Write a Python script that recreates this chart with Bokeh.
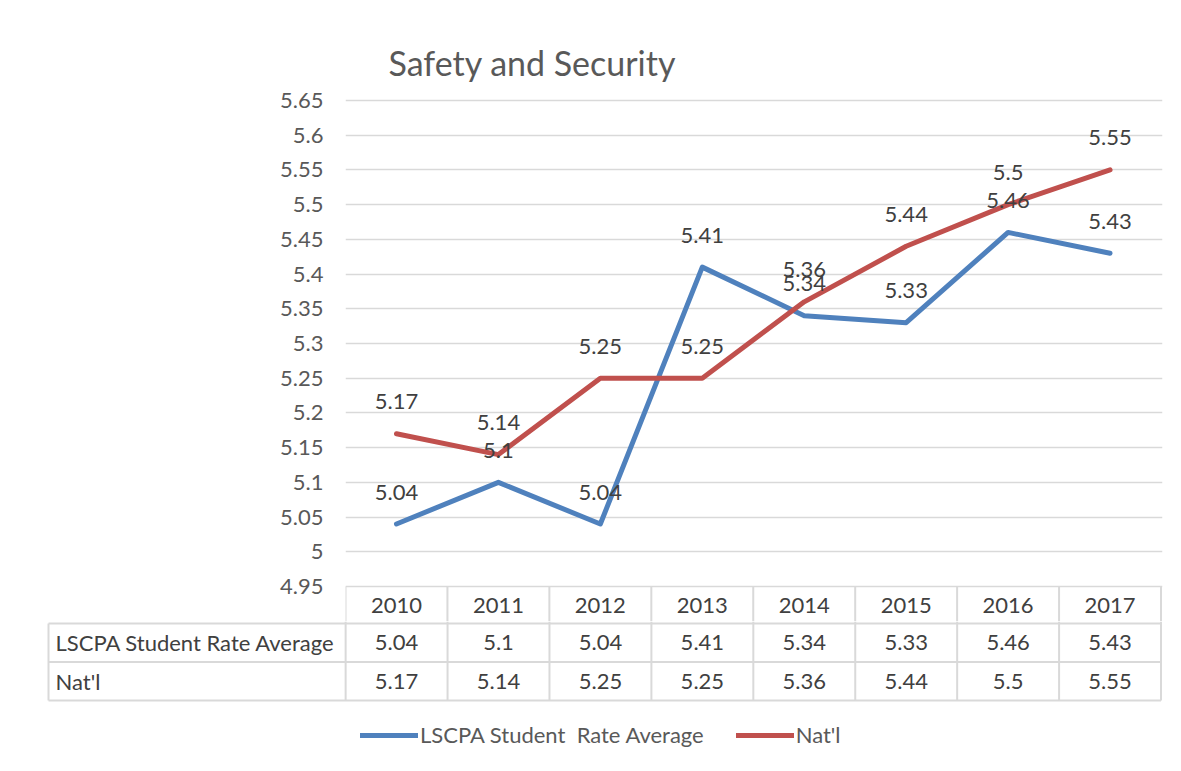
from bokeh.plotting import figure
from bokeh.models import Range1d, FixedTicker, Legend, LegendItem
from bokeh.layouts import column, row
from bokeh.core.properties import value
from bokeh.embed import file_html
from bokeh.resources import INLINE

# ---- data ----
years = ["2010", "2011", "2012", "2013", "2014", "2015", "2016", "2017"]
lscpa = [5.04, 5.1, 5.04, 5.41, 5.34, 5.33, 5.46, 5.43]
natl = [5.17, 5.14, 5.25, 5.25, 5.36, 5.44, 5.5, 5.55]
series_names = ["LSCPA Student  Rate Average", "Nat'l"]
lscpa_labels = ["5.04", "5.1", "5.04", "5.41", "5.34", "5.33", "5.46", "5.43"]
natl_labels = ["5.17", "5.14", "5.25", "5.25", "5.36", "5.44", "5.5", "5.55"]
tick_vals = [4.95, 5.0, 5.05, 5.1, 5.15, 5.2, 5.25, 5.3, 5.35, 5.4, 5.45, 5.5, 5.55, 5.6, 5.65]
tick_labels = ["4.95", "5", "5.05", "5.1", "5.15", "5.2", "5.25", "5.3", "5.35", "5.4",
               "5.45", "5.5", "5.55", "5.6", "5.65"]
title_text = "Safety and Security"

# ---- styles ----
FONT = "Lato"
FS = "22px"
BLUE = "#4F81BD"
RED = "#C0504D"
GRID = "#D9D9D9"
TXT = "#595959"
DTXT = "#404040"

n = len(years)
xs = [i + 0.5 for i in range(n)]
edges = list(range(n + 1))

CELL = 101.875       # px per category
PX_PER_UNIT = 694.3  # vertical px per data unit in chart
y_bottom = 4.95 - 35 / PX_PER_UNIT
y_top = 5.65 + 4 / PX_PER_UNIT
x_end = n + 1.5 / CELL

# ---- chart figure ----
pA = figure(width=1165, height=621, x_range=Range1d(0, x_end), y_range=Range1d(y_bottom, y_top),
            x_axis_type=None, output_backend="svg", toolbar_location=None,
            min_border_left=345, min_border_right=3, min_border_top=96, min_border_bottom=0)
pA.outline_line_color = None
pA.background_fill_color = "white"
pA.border_fill_color = "white"

pA.title.text = title_text
pA.title.text_font = FONT
pA.title.text_font_size = "34px"
pA.title.text_font_style = "normal"
pA.title.text_color = TXT
pA.title.offset = 43
pA.title.standoff = 27

ticker = FixedTicker(ticks=tick_vals)
ya = pA.yaxis[0]
ya.ticker = ticker
ya.major_label_overrides = {v: l for v, l in zip(tick_vals, tick_labels)}
ya.axis_line_color = None
ya.major_tick_line_color = None
ya.minor_tick_line_color = None
ya.major_tick_out = 0
ya.major_tick_in = 0
ya.major_label_standoff = 22
ya.major_label_text_font = FONT
ya.major_label_text_font_size = FS
ya.major_label_text_color = TXT

pA.ygrid.ticker = ticker
pA.ygrid.grid_line_color = GRID
pA.ygrid.grid_line_width = 1.6

pA.line(xs, lscpa, line_color=BLUE, line_width=5, line_cap="round", line_join="round")
pA.line(xs, natl, line_color=RED, line_width=5, line_cap="round", line_join="round")

for vals, labs in ((lscpa, lscpa_labels), (natl, natl_labels)):
    pA.text(x=xs, y=vals, text=labs, text_align="center", text_baseline="middle",
            y_offset=-32, text_font=value(FONT), text_font_size=FS, text_color=DTXT)

# header row (years) of data table
hdr_y = 4.95 - 18.5 / PX_PER_UNIT
pA.text(x=xs, y=[hdr_y] * n, text=years, text_align="center", text_baseline="middle",
        text_font=value(FONT), text_font_size=FS, text_color=DTXT)
pA.segment(x0=edges, y0=[4.95] * (n + 1), x1=edges, y1=[y_bottom] * (n + 1),
           line_color=GRID, line_width=2)

# ---- table + legend figure ----
ROW = 38.5
left_edge = -(345 - 48) / CELL
x_start = -(345 - 44) / CELL
pB = figure(width=1165, height=134, x_range=Range1d(x_start, x_end),
            y_range=Range1d(-132 / ROW, 2 / ROW),
            x_axis_type=None, y_axis_type=None, output_backend="svg", toolbar_location=None,
            min_border_left=44, min_border_right=3, min_border_top=0, min_border_bottom=0)
pB.outline_line_color = None
pB.xgrid.visible = False
pB.ygrid.visible = False
pB.border_fill_color = "white"

# horizontal lines
pB.segment(x0=[left_edge] * 3, y0=[0, -1, -2], x1=[n] * 3, y1=[0, -1, -2],
           line_color=GRID, line_width=2)
# vertical lines
pB.segment(x0=edges, y0=[2 / ROW] * (n + 1), x1=edges, y1=[-2] * (n + 1),
           line_color=GRID, line_width=2)
pB.segment(x0=[left_edge], y0=[0], x1=[left_edge], y1=[-2], line_color=GRID, line_width=2)

lab_x = -(345 - 55) / CELL
pB.text(x=[lab_x, lab_x], y=[-0.5, -1.5], text=series_names, text_align="left",
        text_baseline="middle", text_font=value(FONT), text_font_size=FS, text_color=DTXT)
pB.text(x=xs, y=[-0.5] * n, text=lscpa_labels, text_align="center", text_baseline="middle",
        text_font=value(FONT), text_font_size=FS, text_color=DTXT)
pB.text(x=xs, y=[-1.5] * n, text=natl_labels, text_align="center", text_baseline="middle",
        text_font=value(FONT), text_font_size=FS, text_color=DTXT)

# legend proxies (kept outside the visible range)
r1 = pB.line(x=[-50, -49], y=[-50, -50], line_color=BLUE, line_width=5, line_cap="round")
r2 = pB.line(x=[-50, -49], y=[-50, -50], line_color=RED, line_width=5, line_cap="round")
legend = Legend(items=[LegendItem(label=series_names[0], renderers=[r1]),
                       LegendItem(label=series_names[1], renderers=[r2])],
                orientation="horizontal", location=(316, 7),
                glyph_width=58, glyph_height=24, label_height=24, label_standoff=2,
                spacing=32, padding=0, margin=0,
                label_text_font=FONT, label_text_font_size=FS, label_text_color=TXT,
                border_line_color=None, background_fill_alpha=0)
pB.add_layout(legend, "center")

layout = column(pA, row(pB), spacing=0)
open("out.html", "w").write(file_html(layout, INLINE))
